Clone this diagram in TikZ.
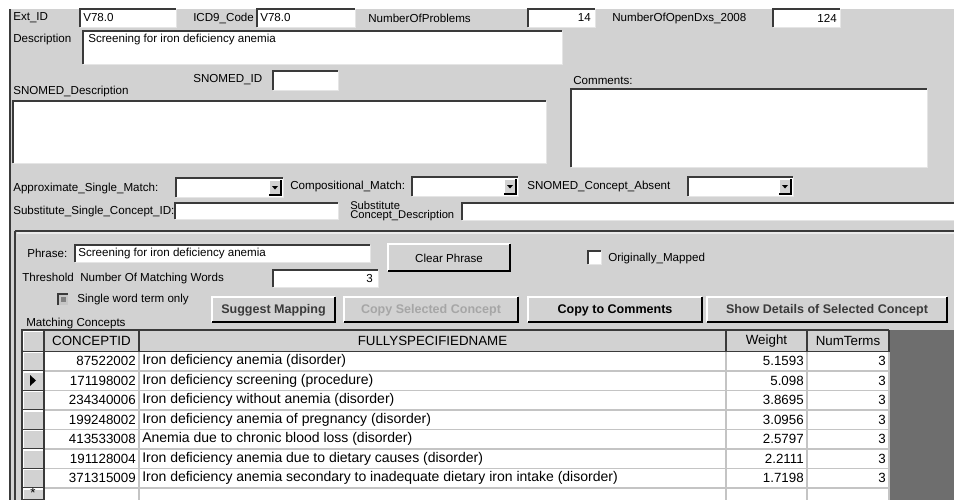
\documentclass[tikz,border=0pt]{standalone}
\usepackage{fontspec}
\setmainfont{Liberation Sans}
\definecolor{bg}{HTML}{D2D2D2}
\definecolor{dk}{HTML}{3A3A3A}
\definecolor{md}{HTML}{808080}
\definecolor{gridc}{HTML}{C4C4C4}
\definecolor{deep}{HTML}{6E6E6E}
\definecolor{dis}{HTML}{A6A6A6}
\tikzset{
 lbl/.style={anchor=west, inner sep=0pt, font=\fontsize{8.7}{9}\selectfont},
 lblr/.style={anchor=east, inner sep=0pt, font=\fontsize{8.7}{9}\selectfont},
 small/.style={anchor=west, inner sep=0pt, font=\fontsize{8.4}{9}\selectfont},
 tbl/.style={anchor=west, inner sep=0pt, font=\fontsize{10.5}{11}\selectfont},
 tblr/.style={anchor=east, inner sep=0pt, font=\fontsize{10}{11}\selectfont},
 tblc/.style={inner sep=0pt, font=\fontsize{10}{11}\selectfont},
 btntxt/.style={inner sep=0pt, font=\fontsize{9.4}{10}\selectfont\bfseries},
}
\newcommand{\sunk}[4]{%
  \fill[white] (#1,#2) rectangle (#3,#4);
  \draw[dk, line width=1.2pt] (#1,#4) -- (#1,#2) -- (#3,#2);
  \draw[white!90!black, line width=0.6pt] (#1,#4) -- (#3,#4) -- (#3,#2);
}
\newcommand{\rbtn}[4]{%
  \fill[bg] (#1,#2) rectangle (#3,#4);
  \draw[white, line width=1pt] (#1,#4) -- (#1,#2) -- (#3,#2);
  \draw[black, line width=1.3pt] (#1,#4) -- (#3,#4) -- (#3,#2);
}
\newcommand{\ddbox}[4]{%
  \sunk{#1}{#2}{#3}{#4}
  \rbtn{#3-14}{#2+2}{#3-2}{#4-2}
  \fill[black] (#3-11,{(#2+#4)/2-1.5}) -- (#3-5,{(#2+#4)/2-1.5}) -- (#3-8,{(#2+#4)/2+2}) -- cycle;
}
\begin{document}
\begin{tikzpicture}[x=0.75pt,y=-0.75pt]
\useasboundingbox (0,0) rectangle (954,500);
\fill[white] (0,0) rectangle (954,500);
\fill[bg] (9,9) rectangle (954,500);
\draw[dk, line width=1.5pt] (10,9) -- (10,500);

% ---- row 1
\node[lbl] (extid) at (13,18) {Ext\_ID};
\sunk{80}{9}{176}{27}
\node[lbl] (extv) at (83,18) {V78.0};
\node[lbl] (icdl) at (193,18) {ICD9\_Code};
\sunk{257}{9}{355}{27}
\node[lbl] (icdv) at (260,18) {V78.0};
\node[lbl] (nopl) at (368,18) {NumberOfProblems};
\sunk{528}{9}{595}{27}
\node[lblr] (nopv) at (591,18) {14};
\node[lbl] (nodl) at (612,18) {NumberOfOpenDxs\_2008};
\sunk{773}{9}{840}{27}
\node[lblr] (nodv) at (837,18) {124};

% ---- description
\node[lbl] (descl) at (13,39) {Description};
\sunk{83}{31}{562}{64}
\node[lbl] (descv) at (88,39) {Screening for iron deficiency anemia};

% ---- SNOMED
\node[lbl] (snidl) at (193,80) {SNOMED\_ID};
\sunk{273}{71}{338}{90}
\node[lbl] (sndl) at (13,91) {SNOMED\_Description};
\sunk{13}{101}{546}{163}
\node[lbl] (coml) at (573,81) {Comments:};
\sunk{571}{89}{927}{167}

% ---- matches
\node[lbl] (asml) at (13,188) {Approximate\_Single\_Match:};
\ddbox{176}{178}{283}{197}
\node[lbl] (cmpl) at (290,186) {Compositional\_Match:};
\ddbox{412}{177}{518}{196}
\node[lbl] (scal) at (527,186) {SNOMED\_Concept\_Absent};
\ddbox{688}{177}{793}{196}

\node[lbl] (sscl) at (13,211) {Substitute\_Single\_Concept\_ID:};
\sunk{175}{203}{338}{219}
\node[small] (subl1) at (350,205) {Substitute};
\node[small] (subl2) at (350,216) {Concept\_Description};
\sunk{462}{203}{954}{220}

% ---- tab page
\draw[dk, line width=1.2pt] (15,231) -- (954,231);
\draw[white!92!black, line width=0.8pt] (17,233) -- (954,233);
\draw[dk, line width=1pt] (15,231) -- (15,500);

\node[lbl] (phl) at (27,253) {Phrase:};
\sunk{75}{245}{370}{262}
\node[lbl] (phv) at (78,253) {Screening for iron deficiency anemia};
\rbtn{388}{244}{510}{271}
\node[lbl, anchor=center] (clr) at (449,258) {Clear Phrase};
\sunk{588}{251}{601}{264}
\node[lbl] (orml) at (608,258) {Originally\_Mapped};

\node[lbl] (thrl) at (22,278) {Threshold\ \ Number Of Matching Words};
\sunk{273}{270}{378}{287}
\node[lblr] (thrv) at (373,279) {3};

\fill[gray!45] (58,294) rectangle (68,305);
\draw[dk, line width=0.9pt] (58,305) -- (58,294) -- (68,294);
\fill[md] (61,297) rectangle (66,302);
\node[lbl] (swl) at (77,299) {Single word term only};

\rbtn{212}{297}{335}{322}
\node[btntxt, text=dk] (sugg) at (273.5,310) {Suggest Mapping};
\rbtn{344}{297}{518}{322}
\node[btntxt, text=dis] (cpsel) at (431,310) {Copy Selected Concept};
\rbtn{528}{297}{702}{322}
\node[btntxt] (cpcom) at (615,310) {Copy to Comments};
\rbtn{707}{297}{947}{322}
\node[btntxt, text=dk] (shdet) at (827,310) {Show Details of Selected Concept};

\node[lbl] (mcl) at (26,323) {Matching Concepts};

% ---- table
\fill[deep] (889,330) rectangle (954,500);
\fill[white] (44,351.5) rectangle (889,500);
\fill[bg] (22,330) rectangle (889,351.5);
\fill[bg] (22,351.5) rectangle (44,500);
% grid
\foreach \yy in {371,390.5,410,429.5,449,468.5,488}
  \draw[gridc, line width=0.8pt] (44,\yy) -- (889,\yy);
\foreach \xx in {139,726,807,889}
  \draw[gridc, line width=0.8pt] (\xx,351.5) -- (\xx,500);
% header borders
\foreach \xx in {44,139,726,807,889}
  \draw[dk, line width=0.9pt] (\xx,330) -- (\xx,351.5);
\draw[dk, line width=0.9pt] (22,351.5) -- (889,351.5);
% selector cells
\foreach \ya/\yb in {351.5/371,371/390.5,390.5/410,410/429.5,429.5/449,449/468.5,468.5/488,488/500}{
  \draw[white, line width=0.8pt] (23,\yb-1) -- (23,\ya+1) -- (43,\ya+1);
  \draw[dk, line width=0.9pt] (22,\yb) -- (44,\yb);
}
\draw[white, line width=0.8pt] (23,350) -- (23,331) -- (43,331);
\draw[dk, line width=0.9pt] (44,351.5) -- (44,500);
\draw[dk, line width=1.3pt] (22,500) -- (22,330) -- (889,330);

\node[tblc] (h1) at (91.5,341) {CONCEPTID};
\node[tblc] (h2) at (432.5,341) {FULLYSPECIFIEDNAME};
\node[tblc] (h3) at (766.5,341) {Weight};
\node[tblc] (h4) at (848,341) {NumTerms};

\fill[black] (30,375) -- (30,386) -- (36,380.5) -- cycle;
\node[tblc] (star) at (33,493) {*};

\node[tblr] (id1) at (136,361) {87522002};
\node[tbl] (nm1) at (142,361) {Iron deficiency anemia (disorder)};
\node[tblr] (wt1) at (804,361) {5.1593};
\node[tblr] (nt1) at (886,361) {3};

\node[tblr] (id2) at (136,380.5) {171198002};
\node[tbl] (nm2) at (142,380.5) {Iron deficiency screening (procedure)};
\node[tblr] (wt2) at (804,380.5) {5.098};
\node[tblr] (nt2) at (886,380.5) {3};

\node[tblr] (id3) at (136,400) {234340006};
\node[tbl] (nm3) at (142,400) {Iron deficiency without anemia (disorder)};
\node[tblr] (wt3) at (804,400) {3.8695};
\node[tblr] (nt3) at (886,400) {3};

\node[tblr] (id4) at (136,419.5) {199248002};
\node[tbl] (nm4) at (142,419.5) {Iron deficiency anemia of pregnancy (disorder)};
\node[tblr] (wt4) at (804,419.5) {3.0956};
\node[tblr] (nt4) at (886,419.5) {3};

\node[tblr] (id5) at (136,439) {413533008};
\node[tbl] (nm5) at (142,439) {Anemia due to chronic blood loss (disorder)};
\node[tblr] (wt5) at (804,439) {2.5797};
\node[tblr] (nt5) at (886,439) {3};

\node[tblr] (id6) at (136,458.5) {191128004};
\node[tbl] (nm6) at (142,458.5) {Iron deficiency anemia due to dietary causes (disorder)};
\node[tblr] (wt6) at (804,458.5) {2.2111};
\node[tblr] (nt6) at (886,458.5) {3};

\node[tblr] (id7) at (136,478) {371315009};
\node[tbl] (nm7) at (142,478) {Iron deficiency anemia secondary to inadequate dietary iron intake (disorder)};
\node[tblr] (wt7) at (804,478) {1.7198};
\node[tblr] (nt7) at (886,478) {3};
\end{tikzpicture}
\end{document}
